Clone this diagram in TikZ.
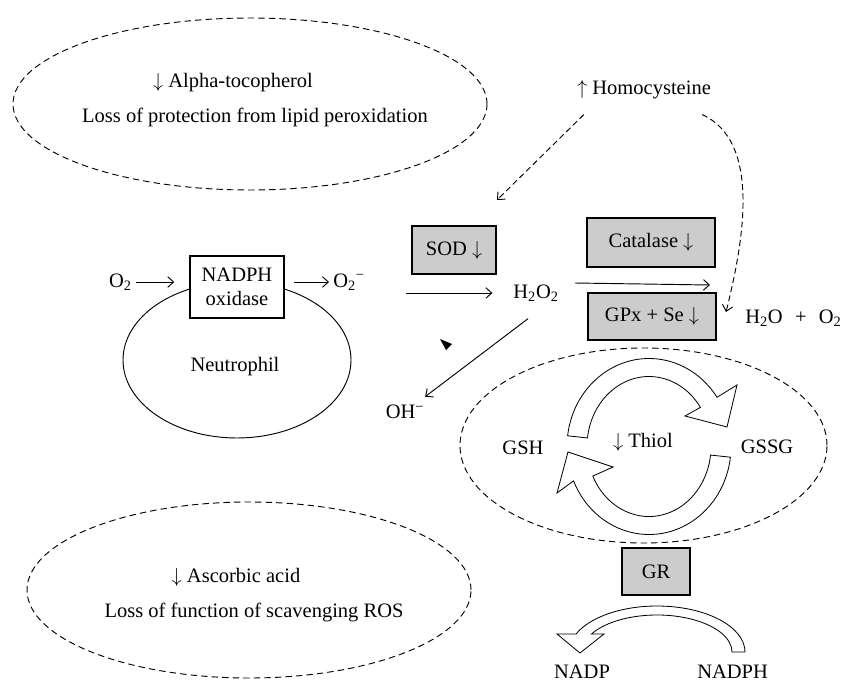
\documentclass[tikz,border=0pt]{standalone}
\usepackage{fontspec}
\setmainfont{Liberation Serif}
\usepackage{tikz}
\usetikzlibrary{positioning,arrows.meta}
\definecolor{boxgray}{RGB}{204,204,204}
\newcommand*{\decr}{$\downarrow$}
\newcommand*{\incr}{$\uparrow$}

\begin{document}
\begin{tikzpicture}[x=0.03cm,y=0.03cm,>={Straight Barb[length=5pt,width=9pt]},line width=0.8pt,
    every node/.style={font=\fontsize{17.5}{20.5}\selectfont},
    enzyme/.style={draw,line width=1.2pt,fill=boxgray,inner sep=0pt},
    region/.style={dash pattern=on 5.5pt off 3.5pt,line width=0.8pt},
    hint/.style={->,dash pattern=on 5pt off 3pt,line width=0.8pt},
    blockarrow/.style={draw,fill=white,line width=0.7pt}]
  \fill[white] (0,0) rectangle (843,686);
  \useasboundingbox (0,0) rectangle (843,686);

  % vitamins
  \draw[region] (250,582) ellipse [x radius=237,y radius=86];
  \node (alpha) at (233,603) {\decr{} Alpha-tocopherol};
  \node (lossprot) at (255,569) {Loss of protection from lipid peroxidation};
  \draw[region] (249,96) ellipse [x radius=222,y radius=88];
  \node (ascorbic) at (236,109) {\decr{} Ascorbic acid};
  \node (lossfun) at (254,74) {Loss of function of scavenging ROS};

  % neutrophil
  \draw (237,326) ellipse [x radius=114,y radius=78];
  \node[draw,fill=white,line width=1.2pt,minimum width=2.82cm,minimum height=1.86cm,
    align=center,inner sep=0pt] (nadphox) at (237,399) {NADPH\\oxidase};
  \node (neutro) at (235,319) {Neutrophil};
  \node (o2in) [left=1.6cm of nadphox,yshift=0.15cm] {O\textsubscript{2}};
  \node (o2out) [right=1.33cm of nadphox,yshift=0.15cm] {O\textsubscript{2}\textsuperscript{−}};
  \draw[->,shorten >=0.45cm] (o2in) -- (o2in -| nadphox.west);
  \draw[->,shorten <=0.27cm] (nadphox.east |- o2out) -- (o2out);

  % ROS
  \node[enzyme,minimum width=2.52cm,minimum height=1.44cm] (sod) at (454,436) {SOD \decr};
  \node (h2o2) at (536,393) {H\textsubscript{2}O\textsubscript{2}};
  \draw[->,shorten <=1.1cm,shorten >=0.5cm] (o2out.east |- h2o2) -- (h2o2.west);
  \node[enzyme,minimum width=3.84cm,minimum height=1.47cm] (catalase) at (651,443.5) {Catalase \decr};
  \node[enzyme,minimum width=3.84cm,minimum height=1.41cm] (gpx) at (652,369.5) {GPx + Se \decr};
  \node[anchor=west] (water) at (741,368) {H\textsubscript{2}O\hspace{0.6em}+\hspace{0.6em}O\textsubscript{2}};
  \coordinate (catend) at (710,401);
  \draw[->] ([shift={(12,10)}]h2o2.east) -- (catend);
  \node (oh) at (405,274) {OH\textsuperscript{−}};
  \draw[->,shorten >=0.2cm] ([shift={(-8,-13)}]h2o2.south) -- (oh);
  \fill (440,347) -- (452,342) -- (446,336) -- cycle;

  % homocysteine
  \node (homocys) at (644,596) {\incr{} Homocysteine};
  \coordinate (sodhit) at (497,486);
  \coordinate (gpxhit) at (726,374);
  \draw[hint] ([shift={(11,-11)}]homocys.south west) -- (sodhit);
  \draw[hint] ([shift={(-13,-11)}]homocys.south east) .. controls (760,545) and (745,450) .. (gpxhit);

  % glutathione cycle
  \draw[region] (643.5,240.5) ellipse [x radius=183.5,y radius=97.5];
  \begin{scope}[shift={(649,239.5)}]
    \draw[blockarrow] (173:82 and 88) arc[start angle=173,end angle=34,x radius=82,y radius=88]
      -- (88,61.5) -- (78,19.5) -- (36,30.5)
      -- (34:62 and 70) arc[start angle=34,end angle=173,x radius=62,y radius=70] -- cycle;
    \draw[blockarrow] (-7:82 and 88) arc[start angle=-7,end angle=-157,x radius=82,y radius=88]
      -- (-92,-46.5) -- (-81,-5.5) -- (-36,-20.5)
      -- (-155:62 and 70) arc[start angle=-155,end angle=-7,x radius=62,y radius=70] -- cycle;
  \end{scope}
  \node (gsh) at (523,238) {GSH};
  \node (gssg) at (767,239) {GSSG};
  \node (thiol) at (643,244) {\decr{} Thiol};
  \node[enzyme,minimum width=2.04cm,minimum height=1.41cm] (gr) at (656,114.5) {GR};

  % NADPH recycling
  \node (nadp) at (582,14) {NADP};
  \node (nadph) [right=2.36cm of nadp] {NADPH};
  \begin{scope}[shift={(657,34)}]
    \draw[blockarrow] (0:88 and 46) arc[start angle=0,end angle=157,x radius=88,y radius=46]
      -- (-100,18) -- (-77,-1) -- (-53,18)
      -- (151:75 and 37) arc[start angle=151,end angle=0,x radius=75,y radius=37] -- cycle;
  \end{scope}
\end{tikzpicture}
\end{document}
